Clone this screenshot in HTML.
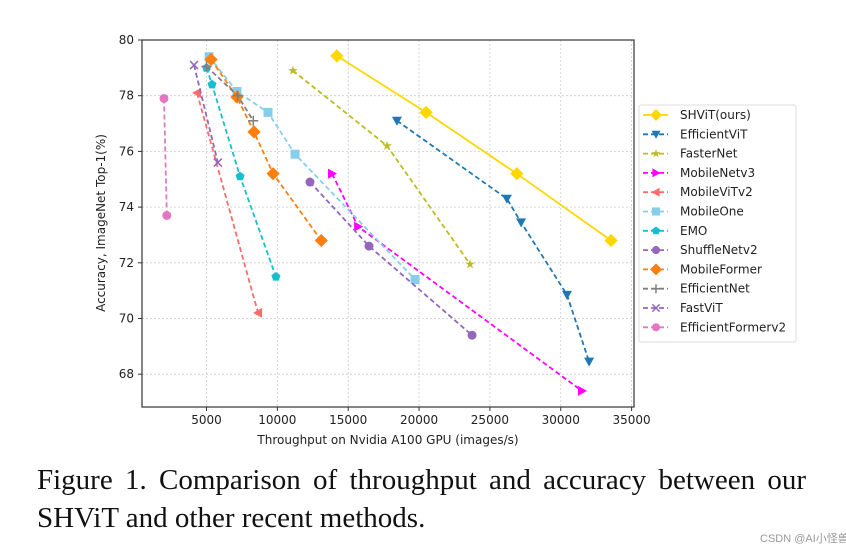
<!DOCTYPE html>
<html><head><meta charset="utf-8"><style>
body{margin:0;background:#fff;width:846px;height:552px;overflow:hidden;position:relative}
svg{position:absolute;left:0;top:0}
.cap{position:absolute;left:37px;width:769px;font-family:"Liberation Serif",serif;font-size:29px;color:#111;white-space:nowrap;line-height:34px}
</style></head><body>
<svg id="chart" width="846" height="460" font-family="DejaVu Sans, Liberation Sans, sans-serif"></svg>
<div class="cap" style="top:463px;text-align:justify;text-align-last:justify">Figure 1. Comparison of throughput and accuracy between our</div>
<div class="cap" style="top:501px">SHViT and other recent methods.</div>
<div style="position:absolute;left:760px;top:530px;white-space:nowrap;font-family:'Liberation Sans','Noto Sans CJK SC',sans-serif;font-size:11px;color:#999">CSDN @AI小怪兽</div>
<script>
const seriesNames=["SHViT(ours)","EfficientViT","FasterNet","MobileNetv3","MobileViTv2","MobileOne","EMO","ShuffleNetv2","MobileFormer","EfficientNet","FastViT","EfficientFormerv2"];
const shvitX=[14200,20500,26900,33550], shvitY=[79.43,77.4,75.2,72.8];
const effvitX=[18440,26200,27200,30440,32000], effvitY=[77.1,74.3,73.45,70.85,68.45];
const fasterX=[11100,17740,23600], fasterY=[78.9,76.2,71.95];
const mnv3X=[13860,15700,31500], mnv3Y=[75.2,73.3,67.4];
const mvitX=[4330,8640], mvitY=[78.1,70.2];
const moneX=[5180,7150,9340,11250,19720], moneY=[79.4,78.15,77.4,75.9,71.4];
const emoX=[5000,5390,7370,9900], emoY=[79.0,78.4,75.1,71.5];
const shufX=[12300,16470,23740], shufY=[74.9,72.6,69.4];
const mformX=[5320,7150,8350,9700,13100], mformY=[79.3,77.95,76.7,75.2,72.8];
const effnetX=[5000,7200,8300], effnetY=[79.05,78.0,77.1];
const fastX=[4120,5800], fastY=[79.1,75.6];
const ef2X=[2000,2200], ef2Y=[77.9,73.7];
const xTicks=[5000,10000,15000,20000,25000,30000,35000];
const yTicks=[68,70,72,74,76,78,80];

const S=[[shvitX,shvitY,"#ffd700","D",false],[effvitX,effvitY,"#1f77b4","v",true],[fasterX,fasterY,"#bcbd22","*",true],[mnv3X,mnv3Y,"#ff00ff",">",true],[mvitX,mvitY,"#ff6b6b","<",true],[moneX,moneY,"#87ceeb","s",true],[emoX,emoY,"#17becf","p",true],[shufX,shufY,"#9467bd","h",true],[mformX,mformY,"#ff7f0e","D",true],[effnetX,effnetY,"#7f7f7f","+",true],[fastX,fastY,"#9467bd","x",true],[ef2X,ef2Y,"#e377c2","o",true]];
const L=142,R=634,T=40,B=407;
const xs=v=>206.5+(v-5000)*0.01417, ys=v=>40+(80-v)*27.85;
const svg=document.getElementById('chart'),NS="http://www.w3.org/2000/svg";
function mk(t,a,p){const e=document.createElementNS(NS,t);for(const k in a)e.setAttribute(k,a[k]);(p||svg).appendChild(e);return e;}
function marker(type,x,y,c,s,g){s=s||6;let e;
 if(type==="D"){e=mk('polygon',{points:`${x},${y-s*1.2} ${x+s*1.2},${y} ${x},${y+s*1.2} ${x-s*1.2},${y}`,fill:c},g);}
 else if(type==="v")e=mk('polygon',{points:`${x-s},${y-s*0.8} ${x+s},${y-s*0.8} ${x},${y+s}`,fill:c},g);
 else if(type===">")e=mk('polygon',{points:`${x-s*0.8},${y-s} ${x-s*0.8},${y+s} ${x+s},${y}`,fill:c},g);
 else if(type==="<")e=mk('polygon',{points:`${x+s*0.8},${y-s} ${x+s*0.8},${y+s} ${x-s},${y}`,fill:c},g);
 else if(type==="s")e=mk('rect',{x:x-s*0.9,y:y-s*0.9,width:s*1.8,height:s*1.8,fill:c},g);
 else if(type==="o"||type==="h")e=mk('circle',{cx:x,cy:y,r:s*0.9,fill:c},g);
 else if(type==="p"||type==="*"){let p=[],n=type==="p"?5:10;for(let i=0;i<n;i++){const a=-Math.PI/2+i*2*Math.PI/n,r=type==="p"?s*0.95:(i%2?s*0.4:s);p.push((x+r*Math.cos(a))+","+(y+r*Math.sin(a)));}e=mk('polygon',{points:p.join(' '),fill:c},g);}
 else if(type==="+")e=mk('path',{d:`M${x-s} ${y}H${x+s}M${x} ${y-s}V${y+s}`,stroke:c,'stroke-width':1.5},g);
 else if(type==="x")e=mk('path',{d:`M${x-s*0.8} ${y-s*0.8}L${x+s*0.8} ${y+s*0.8}M${x+s*0.8} ${y-s*0.8}L${x-s*0.8} ${y+s*0.8}`,stroke:c,'stroke-width':1.5},g);
 return e;}
xTicks.forEach(v=>{const l=mk('line',{x1:xs(v),x2:xs(v),y1:T,y2:B,stroke:'#ccc','stroke-dasharray':'2,2','stroke-width':0.8});
 const t=mk('line',{x1:xs(v),x2:xs(v),y1:B,y2:B+4,stroke:'#333'});
 const tx=mk('text',{x:xs(v),y:B+17,'text-anchor':'middle','font-size':12,fill:'#222'});tx.textContent=v;});
yTicks.forEach(v=>{if(v<80){const l=mk('line',{x1:L,x2:R,y1:ys(v),y2:ys(v),stroke:'#ccc','stroke-dasharray':'2,2','stroke-width':0.8});}
 const t=mk('line',{x1:L-4,x2:L,y1:ys(v),y2:ys(v),stroke:'#333'});
 const tx=mk('text',{x:L-8,y:ys(v)+4,'text-anchor':'end','font-size':12,fill:'#222'});tx.textContent=v;});
S.forEach((s,i)=>{const g=mk('g',{});
 const pts=s[0].map((v,j)=>xs(v)+','+ys(s[1][j])).join(' ');
 const a={points:pts,fill:'none',stroke:s[2],'stroke-width':1.8};if(s[4])a['stroke-dasharray']='5,3';mk('polyline',a,g);
 s[0].forEach((v,j)=>{const m=marker(s[3],xs(v),ys(s[1][j]),s[2],s[3]==="D"?5.5:5,g);});});
const fr=mk('rect',{x:L,y:T,width:R-L,height:B-T,fill:'none',stroke:'#333','stroke-width':1.2});
const xt=mk('text',{x:388,y:444,'text-anchor':'middle','font-size':12,fill:'#222'});xt.textContent='Throughput on Nvidia A100 GPU (images/s)';
const yt=mk('text',{x:0,y:0,'text-anchor':'middle','font-size':12,fill:'#222',transform:'translate(105,223) rotate(-90)'});yt.textContent='Accuracy, ImageNet Top-1(%)';
const lg=mk('g',{});
mk('rect',{x:639,y:105,width:157,height:237,rx:2,fill:'#fff',stroke:'#ddd'},lg);
S.forEach((s,i)=>{const y=115+i*19.3;const e=mk('g',{},lg);
 const a={x1:643,x2:668,y1:y,y2:y,stroke:s[2],'stroke-width':1.8};if(s[4])a['stroke-dasharray']='5,3';mk('line',a,e);
 marker(s[3],656,y,s[2],s[3]==="D"?5:4.5,e);
 const t=mk('text',{x:680,y:y+4,'font-size':12,fill:'#222'},e);t.textContent=seriesNames[i];});
</script>
</body></html>
